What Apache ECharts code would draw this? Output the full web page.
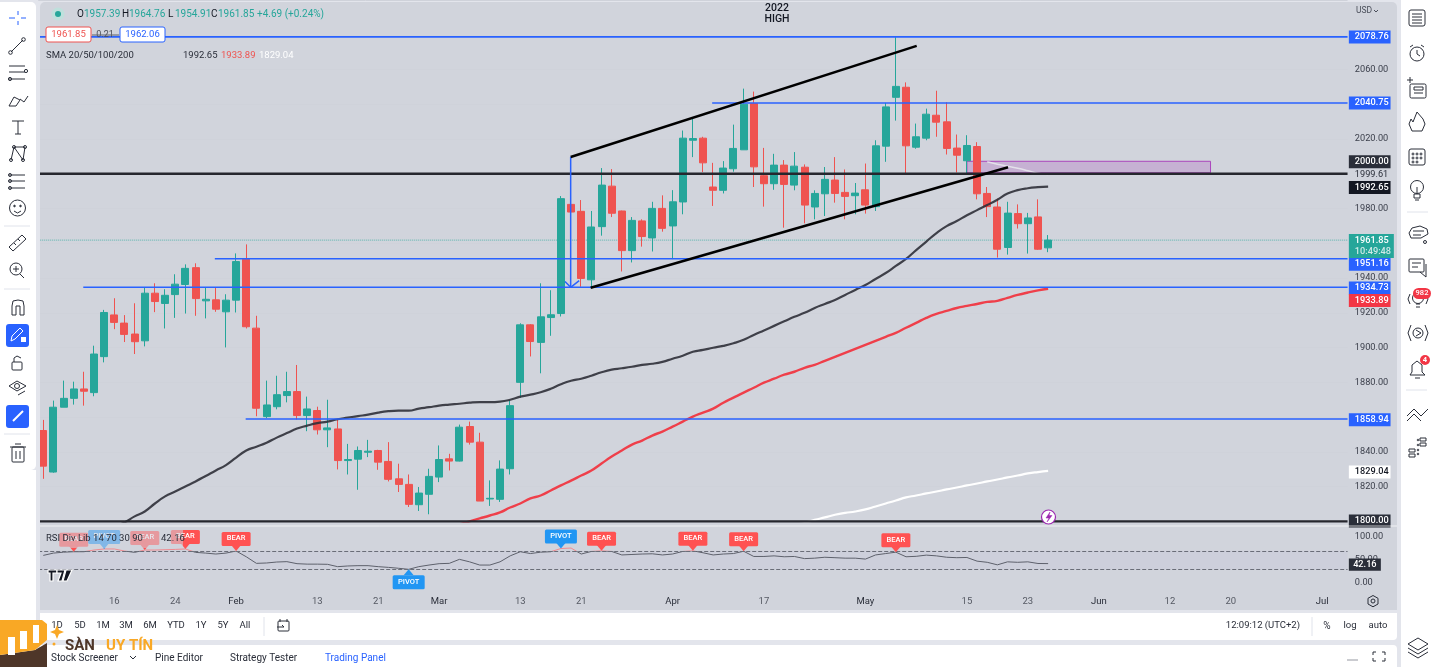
<!DOCTYPE html>
<html><head><meta charset="utf-8">
<style>html,body{margin:0;padding:0;background:#fff;overflow:hidden}#c{width:1432px;height:667px}</style>
<script src="https://cdn.jsdelivr.net/npm/echarts@6/dist/echarts.min.js"></script>
</head><body><div id="c"></div>
<script>
// [open, close, low, high]
const ohlc = [
[1852.3,1831.8,1824.5,1858.4],[1828.4,1865.7,1828,1869.5],[1865.7,1870.8,1865.7,1881],[1870.8,1876.2,1867.2,1880.4],[1876.2,1874.9,1866.6,1886.1],
[1874.1,1896.3,1872,1901.1],[1894.8,1920.2,1891.5,1921.7],[1918.8,1914.5,1910.6,1928.4],[1914.1,1907.6,1903.2,1918.7],[1907.8,1903.4,1896.3,1925.5],
[1903.9,1931.3,1900.7,1934.5],[1931.3,1926.5,1920.4,1937],[1925.4,1930.1,1911,1933.6],[1930.5,1936.5,1917.1,1942.2],[1936.3,1945.6,1919.6,1947.9],
[1946,1928.2,1918.3,1948.5],[1926.9,1927.8,1916.8,1934.5],[1927.5,1922.1,1920.6,1934.5],[1920.6,1927.3,1900.1,1930.7],[1927.3,1949.5,1920.2,1954.2],
[1950.8,1912,1911,1959.4],[1911.2,1865.1,1860.5,1918.3],[1860.3,1867,1859.4,1881],[1866,1872.9,1864.5,1883.8],[1872.4,1874.7,1868.5,1886.1],
[1874.7,1860.9,1858.6,1890],[1860.9,1864.7,1851.9,1871.8],[1863.8,1852.7,1850,1866],[1852.7,1853.8,1842.7,1870],[1853.2,1835,1829.9,1859],
[1835,1835.6,1827,1844.6],[1835.8,1840.8,1818.2,1843.1],[1839.8,1840.4,1837,1846.9],[1840.8,1834.1,1829.7,1841.2],[1834.5,1824.2,1823,1845.6],
[1824.5,1821.3,1816.9,1833.2],[1821.3,1809.8,1808.3,1827],[1809.6,1816.3,1806,1819.8],[1815.6,1825.9,1804.1,1830.3],[1825.5,1835.6,1822.6,1843.7],
[1836,1834.7,1829.3,1838.9],[1834.7,1854.2,1834.5,1855.7],[1854.6,1845.6,1844.2,1857.4],[1845.6,1811.7,1811.7,1851],[1812.9,1813.3,1808.9,1823.6],
[1812.7,1830.1,1811.2,1835.1],[1830.3,1866.6,1827,1869.5],[1880,1913.1,1871,1914],[1913.1,1903.5,1894.9,1913.5],[1903,1917.7,1885.2,1937],
[1917.3,1918.9,1906.8,1933],[1919.6,1985.7,1917.9,1987.2],[1982.4,1978,1977,1983],[1978.4,1939.8,1935,1984.9],[1939,1969.4,1934.6,1978.6],
[1969.6,1993.5,1964.4,2003.3],[1992.9,1977.3,1975.1,2002.7],[1978.6,1955.8,1943.8,1978.8],[1955.8,1973.2,1949,1975.1],[1972.9,1963.9,1958.1,1973.8],
[1963.1,1980.1,1955.3,1983.9],[1980.1,1968.6,1966.7,1987.6],[1970,1983.9,1950.9,1990.6],[1983.8,2020.5,1976.7,2024.9],[2019.3,2020.3,2009.6,2031.8],
[2020.5,2006.3,2001,2021.3],[1992.4,1990.5,1981.5,2006.3],[1990.5,2003.3,1988.7,2007.3],[2002.9,2014.6,2001.2,2028.3],[2013.8,2040,2013.8,2049],
[2040.4,2004,1992.4,2047.3],[1998.9,1994.3,1981.1,2014.9],[1994.3,2005,1990.8,2011.5],[2005,1993.9,1969,2007.9],[1993.5,2004.4,1990.5,2012.5],
[2003.8,1982,1971.5,2005.4],[1980.9,1988.7,1973.8,1990.5],[1988.5,1996.8,1975.7,2003.9],[1996.4,1988.7,1983.4,2009.6],[1989.3,1987,1973.8,2002.5],
[1987.4,1988.9,1976.7,1994.7],[1990.8,1982,1977.1,2005.9],[1981.1,2016.1,1978.6,2019.3],[2015.9,2038.5,2006.9,2040.8],[2044,2050.3,2030.6,2078.6],
[2049.8,2016.1,1999.6,2052.6],[2015.3,2021.3,2014.4,2028.9],[2020.5,2034.3,2019.3,2037.5],[2033.7,2029.7,2021.3,2047.8],[2029.9,2014.6,2011.1,2041.2],
[2014.8,2010.7,2000.8,2022.6],[2007.5,2016.3,1999.6,2022.2],[2015.7,1988.5,1985.3,2018.2],[1988.7,1981.1,1975.1,1992.4],[1980.9,1956.6,1951.8,1985.7],
[1957.6,1977.4,1953.5,1983.9],[1977.1,1971.3,1968.5,1982.4],[1971.3,1974.6,1954.1,1977.5],[1975.2,1956.6,1956.2,1985.3],[1957.39,1961.85,1954.91,1964.76]
];
const sma50Start = 7;
const sma50 = [1797,1799.4,1802.9,1805.7,1810.3,1814.4,1817.2,1820.1,1823,1826.1,1829.3,1832.4,1836.7,1840.8,1843,1845.3,1848.2,1850.8,1853.4,1855.1,1856.5,1857.4,1858.8,1859.7,1860.6,1861.4,1862.6,1863.4,1863.7,1863.7,1864.9,1865.7,1866.6,1867.2,1867.7,1868.3,1868.6,1868.6,1868.9,1870,1871.8,1872.9,1874.3,1876.3,1878.9,1880.9,1882.1,1883.8,1885.8,1887.3,1888.1,1889,1890.1,1890.7,1891.8,1893.6,1895.3,1897.6,1898.7,1899.9,1901,1902.5,1904.5,1907.3,1909.9,1912.5,1915.1,1917.7,1920,1922.8,1925.1,1927.4,1930.3,1933.2,1936,1939.5,1942.9,1947,1951,1956.1,1961,1965.9,1969.9,1972.8,1976.2,1979.1,1982,1985.1,1988.6,1990.6,1991.7,1992.3,1992.65];
const sma100Start = 41;
const sma100 = [1798.3,1800,1801.7,1803.4,1805.2,1808,1810.3,1813.2,1814.9,1817.8,1820.7,1823.5,1826.4,1829.3,1833.3,1837.3,1840.8,1844.2,1846.5,1849.4,1851.7,1854.5,1857.4,1860.3,1862.6,1864.9,1868.3,1871.2,1874.1,1876.9,1879.8,1882.1,1884.4,1886.1,1888.4,1890.1,1892.4,1894.7,1897,1899.3,1901.6,1903.9,1906.2,1908.5,1911.4,1914.2,1917.1,1919.4,1921.1,1922.8,1924,1925.1,1926.3,1926.9,1928.6,1930.3,1931.7,1932.9,1933.89];
const sma200Start = 74;
const sma200 = [1798.3,1799.1,1800.9,1802.3,1803.8,1804.9,1805.7,1806.9,1808.6,1810.3,1812,1813.8,1814.9,1816.1,1817.2,1818.4,1819.5,1820.7,1821.8,1823,1824.1,1825.3,1826.4,1827.6,1828.4,1829.04];
const sma20Start = 93;
const sma20 = [2006.9,2005.5,2004.4,2003.2,2001.8,2000.3,1999.61];
const rsi = [60,65,67,68,68,71.7,74,74,69.5,66.6,71.7,71.7,72.4,73,74,66.6,65,63,65,69.5,57,42.7,43.5,45.6,46.4,42,41,41,40.6,35.5,37,37.7,37.7,35.5,34,32,29.7,35.5,39,42,42.7,51.4,46,39,39,46,59,68,64,67,68,75,76,63,68.6,70,68.6,61,62,63,63.5,61,63,68.6,70,65.7,61,63,64,69,57.7,57.7,59,57,57.7,53,54,56,55,54,54,52,61,64,67,57,58,60.6,59,56,55,55.5,47.5,45,39.5,46,45,46,42.4,42.16];
const dateIndex = [7,13,19,27,33,39,47,53,62,71,81,91,97,104,111,117,126];
const dateLabels = ['16','24','Feb','13','21','Mar','13','21','Apr','17','May','15','23','Jun','12','20','Jul'];
const priceTicks = [2060,2020,1980,1940,1920,1900,1880,1840,1820];
const rsiTicks = [0,50,100];
const levelPrices = [2078.76,2040.75,1951.16,1934.73,1858.94];
const levelFrom = [-0.5,65.9,16.9,3.94,19.94];
const blackLevels = [2000,1800];
const lastPrice = 1961.85;
const channelUpper = [[51.96,2009.7],[86.05,2073.6]];
const channelLower = [[53.93,1934.5],[95.05,2003.8]];
const arrowShaft = [[51.96,2009.7],[51.96,1935]];
const arrowHead = [[51.4,1938],[51.96,1934.7],[52.8,1938.5]];
const zoneBox = [[91,2007.2],[115,2000.6]];
const axisTags = [2078.76,2040.75,2000,1992.65,1951.16,1934.73,1933.89,1858.94,1829.04,1800];
const plainTag = 1999.61;
const flagIdx = [3,6,10,14,19,36,51,55,64,69,84];
const flagText = ['BEAR','PIVOT','BEAR','BEAR','BEAR','PIVOT','PIVOT','BEAR','BEAR','BEAR','BEAR'];
const legendOHLC = ['1957.39','1964.76','1954.91','1961.85','+4.69 (+0.24%)'];
const smaLegend = ['1992.65','1933.89','1829.04'];
const ranges = ['1D','5D','1M','3M','6M','YTD','1Y','5Y','All'];
const tabs = ['Stock Screener','Pine Editor','Strategy Tester','Trading Panel'];

/* ---------- styling ---------- */
const UP='#26a69a',DOWN='#ef5350',BLUE='#2962ff',PANE='#d1d4dc',INK='#131722',FONT='Roboto, sans-serif';
const totalBars=129, bandW=10.15, gridL=38.2, gridW=totalBars*bandW;
const pad=(start,a)=>Array(start).fill(null).concat(a);
const categories=Array.from({length:totalBars},(_,i)=>{const k=dateIndex.indexOf(i);return k<0?'':dateLabels[k];});
const tagStyle={2078.76:[BLUE,0],2040.75:[BLUE,0],2000:['#2a2e39',-12],1992.65:[INK,1],1951.16:[BLUE,5.5],1934.73:[BLUE,.7],1933.89:['#f23645',11.7],1858.94:[BLUE,.8],1829.04:['#fff',1,INK],1800:['#2a2e39',-.5]};
const g=[];
const R=(x,y,w,h,fill,z=100,r=0,extra={})=>g.push({type:'rect',silent:true,z,shape:{x,y,width:w,height:h,r},style:Object.assign({fill},extra)});
const T=(x,y,text,o={})=>g.push({type:'text',silent:true,z:o.z||110,style:{x,y,text,fill:o.color||INK,font:`${o.weight||'normal'} ${o.size||10}px ${FONT}`,align:o.align||'left',verticalAlign:'middle',opacity:o.opacity==null?1:o.opacity}});
const L=(x1,y1,x2,y2,c='#2a2e39',w=1,z=110)=>g.push({type:'line',silent:true,z,shape:{x1,y1,x2,y2},style:{stroke:c,lineWidth:w}});
const C=(cx,cy,r,c='#2a2e39',fill='none',w=1,z=110)=>g.push({type:'circle',silent:true,z,shape:{cx,cy,r},style:{stroke:c,fill,lineWidth:w}});
const P=(pts,c='#2a2e39',w=1,fill=null,z=110)=>g.push(fill?{type:'polygon',silent:true,z,shape:{points:pts},style:{fill,stroke:c,lineWidth:w}}:{type:'polyline',silent:true,z,shape:{points:pts},style:{stroke:c,lineWidth:w,fill:'none'}});

// page frame
R(0,0,1432,667,'#e3e5ec',-10);
R(40,2,1357,608,PANE,-9,[5,5,0,0]);
R(40,613,1357,27,'#fff',100,[0,0,4,4]);
R(0,645,1397,22,'#fff',100,[4,4,0,0]);
R(0,2,36,468,'#fff',100,[0,5,5,0]);
R(36,2,4,660,'#e3e5ec',100);
R(0,470,36,175,'#fff',100);
R(1397,0,4,667,'#e3e5ec',100);
R(1401,0,31,667,'#fff',100);
L(40,526,1397,526,'rgba(255,255,255,.7)',1,50);

// header legend
C(58,14,6.5,'none','#bfe0dc',0,105);C(58,14,3,'none',UP,0,106);
[77,122,168,211].forEach((hx,i)=>{T(hx,14,'OHLC'[i],{size:10,color:INK});T(hx+7,14,legendOHLC[i],{size:10,color:UP});});
T(257,14,legendOHLC[4],{size:10,color:UP});
T(777,8,'2022',{size:10.5,align:'center',weight:'500'});T(777,19,'HIGH',{size:10.5,align:'center',weight:'500'});
T(1356,11,'USD',{size:8.5,color:'#4a4e5a'});P([[1374,10],[1376,12],[1378,10]],'#4a4e5a',1);
R(46,27,45,15,'#fff',105,2,{stroke:'#ef5350',lineWidth:1});T(68.5,35,'1961.85',{size:9.5,align:'center',color:'#ef5350'});
T(105,35,'0.21',{size:9,align:'center',color:'#4a4e5a'});L(92,35,119,35,'#5d606b',1);
R(120,27,45,15,'#fff',105,2,{stroke:BLUE,lineWidth:1});T(142.5,35,'1962.06',{size:9.5,align:'center',color:BLUE});
T(46,56,'SMA 20/50/100/200',{size:9.5,color:'#2a2e39'});
T(183,56,smaLegend[0],{size:9.5,color:'#2a2e39'});T(221,56,smaLegend[1],{size:9.5,color:'#ef5350'});T(259,56,smaLegend[2],{size:9.5,color:'#fff'});
// RSI legend
R(44,530,139,18,'rgba(209,212,220,.55)',105);
T(46,539,'RSI Div Lib 14 70 30 90',{size:9.5,color:'#2a2e39'});T(161,539,'42.16',{size:9.5,color:'#2a2e39'});
// logo mark
P([[48,570],[57,570],[57,573],[53,573],[53,581],[50,581],[50,573],[48,573]],'#fff',1.2,'#131722');
P([[57,570],[65,570],[62,581],[58,581],[61,573],[57,573]],'#fff',1.2,'#131722');
P([[66,570],[72,570],[67,581],[63,581]],'#fff',1.2,'#131722');
// divergence marker
C(1048.5,517,7,'#9c27b0','#fff',1.2,60);P([[1050,512],[1046,518],[1049,518],[1047,522],[1052,515.5],[1049,515.5]],'#9c27b0',.5,'#9c27b0',61);
// settings cog
P([[1373,595.5],[1378,598.3],[1378,604],[1373,606.8],[1368,604],[1368,598.3],[1373,595.5]],'#2a2e39',1);C(1373,601,2,'#2a2e39');
// bottom toolbar
[57,80,103,126,150,176,201,223,245].forEach((x,i)=>T(x,626,ranges[i],{size:9.5,align:'center',color:'#2a2e39'}));
L(264,617,264,636,'#e0e3eb');R(278,621,11,10,'none',110,1,{stroke:'#2a2e39',lineWidth:1});L(280,619,280,622);L(287,619,287,622);P([[277,627],[284,627],[282,625]],'#2a2e39',1);
T(1300,626,'12:09:12 (UTC+2)',{size:9.5,align:'right',color:'#2a2e39'});L(1312,617,1312,636,'#e0e3eb');
T(1327,626,'%',{size:10,align:'center',color:'#2a2e39'});T(1350,626,'log',{size:9.5,align:'center',color:'#2a2e39'});T(1378,626,'auto',{size:9.5,align:'center',color:'#2a2e39'});
// bottom tabs
T(51,658,tabs[0],{size:10,color:'#2a2e39'});P([[130,656],[133,659],[136,656]],'#2a2e39',1);
T(155,658,tabs[1],{size:10,color:'#2a2e39'});T(230,658,tabs[2],{size:10,color:'#2a2e39'});T(325,658,tabs[3],{size:10,color:BLUE});
L(1347,660,1358,660,'#9598a1',1);
[[1373,652,1,1],[1385,652,-1,1],[1373,661,1,-1],[1385,661,-1,-1]].forEach(([x,y,a,b])=>P([[x+3*a,y],[x,y],[x,y+3*b]],'#2a2e39',1));
// watermark logo
P([[0,620],[42,620],[47,624],[47,640],[35,650],[0,655]],'#f9a825',0,'#f9a825',120);
P([[0,655],[35,650],[47,643],[47,667],[0,667]],'#4e3629',0,'#4e3629',119);
R(8,637,7,18,'#fff',121);R(20,631,7,18,'#fff',121);R(33,625,6,18,'#fff',121);
P([[57,625],[59,630],[64,632],[59,634],[57,639],[55,634],[50,632],[55,630]],'#f9a825',0,'#f9a825',121);C(54,644,1.5,'#f9a825','#f9a825',0,121);
T(65,646,'SÀN',{size:15,weight:'bold',color:'#4e3629',z:125});T(106,646,'UY TÍN',{size:15,weight:'bold',color:'#f9a825',z:125});
// left toolbar
const ic='#2a2e39';
L(18,11,18,15,BLUE);L(18,21,18,25,BLUE);L(9,18,15,18,BLUE);L(21,18,26,18,BLUE);
L(11,52,23,40);C(10.5,52.5,1.8);C(23.5,39.5,1.8);
L(9,66,25,66);L(9,72,25,72);L(9,79,25,79);C(26,71,1.6);C(10,79,1.6);
P([[9,106],[16,106],[20,100],[14,97],[9,106]]);P([[20,99],[24,102],[28,96]]);
L(12,121,24,121);L(18,121,18,134);L(15,134,21,134);
P([[11,160],[14,147],[23,160],[25,147],[14,147]]);C(11,160,1.5);C(14,147,1.5);C(23,160,1.5);C(25,147,1.5);
L(9,175,25,175);L(9,181,25,181);L(9,188,25,188);C(10,175,1.5);C(10,188,1.5);C(10,181,1.5);
C(17.5,208,8);C(14.5,206,.8,ic,ic);C(20.5,206,.8,ic,ic);P([[14,211],[17.5,213],[21,211]]);
L(4,226,30,226,'#e0e3eb');
P([[9,247],[22,235],[26,239],[13,251],[9,247]]);L(14,243,16,245);L(18,239,20,241);
C(16,269,6);L(13,269,19,269);L(16,266,16,272);L(20,274,24,278);
L(4,289,30,289,'#e0e3eb');
P([[12,315],[12,306],[13,301],[18,300],[23,301],[24,306],[24,315],[20,315],[20,306],[16,306],[16,315],[12,315]]);
R(6,324,23,23,BLUE,105,3);P([[11,341],[12,336],[20,328],[23,331],[15,339],[11,341]],'#fff',1);R(21,337,5,5,'#fff',111);
R(12,362,10,8,'none',110,1,{stroke:ic,lineWidth:1});P([[14,362],[14,358],[17,356],[21,358]]);
P([[9,386],[17,381],[26,386],[17,391],[9,386]]);C(17,386,2.5);L(18,395,25,391);
R(6,405,23,23,BLUE,105,3);L(13,421,23,411,'#fff',2);
L(4,434,30,434,'#e0e3eb');
R(12,447,12,15,'none',110,1,{stroke:ic,lineWidth:1});L(10,447,26,447);L(15,444,21,444);L(16,451,16,459);L(20,451,20,459);
// right toolbar
R(1409,10,16,16,'none',110,2,{stroke:ic,lineWidth:1});[14,17,20,23].forEach(y=>L(1412,y,1422,y));
C(1417,54,7);P([[1417,50],[1417,54],[1420,56]]);L(1410,47,1413,45);L(1421,45,1424,47);
R(1410,84,16,14,'none',110,1.5,{stroke:ic,lineWidth:1});L(1407,80,1413,80);L(1410,77,1410,83);R(1414,87,9,3,'none',110,0,{stroke:ic,lineWidth:1});L(1414,93,1423,93);
P([[1417,112],[1423,119],[1425,124],[1422,131],[1412,131],[1409,124],[1411,119],[1413,122],[1417,112]]);
R(1409,149,16,16,'none',110,2,{stroke:ic,lineWidth:1});[[1413,154],[1417,154],[1421,154],[1413,158],[1417,158],[1421,158],[1413,162],[1417,162]].forEach(([x,y])=>C(x,y,1));
C(1417,187,6.5);R(1414,194,6,4,'none',110,0,{stroke:ic,lineWidth:1});L(1415,200,1419,200);L(1417,187,1417,193);
L(1407,212,1428,212,'#e0e3eb');
P([[1409,233],[1412,228],[1420,226],[1427,229],[1428,234],[1421,238],[1411,238],[1409,233]]);L(1413,231,1424,231);L(1413,235,1421,235);C(1425,242,1.5);
R(1409,259,15,13,'none',110,1,{stroke:ic,lineWidth:1});L(1412,263,1421,263);L(1412,267,1418,267);P([[1420,272],[1426,277],[1426,264]]);
C(1418,298,5.5);L(1416,304,1420,304);L(1416,307,1420,307);P([[1410,294],[1408,299],[1410,304]]);P([[1426,294],[1428,299],[1426,304]]);
R(1413,288,18,11,'#f23645',112,5.5);T(1422,293.5,'982',{size:7.5,color:'#fff',align:'center',z:113,weight:'500'});
C(1418,333,5);P([[1416,330],[1421,333],[1416,336]]);P([[1411,325],[1408,333],[1411,341]]);P([[1425,325],[1428,333],[1425,341]]);
P([[1410,375],[1412,372],[1412,365],[1417,361],[1422,365],[1422,372],[1425,375],[1410,375]]);L(1415,378,1420,378);
C(1425,360,5,'#f23645','#f23645',0,112);T(1425,360.5,'4',{size:7.5,color:'#fff',align:'center',z:113,weight:'bold'});
L(1406,390,1427,390,'#e0e3eb');
P([[1407,416],[1414,409],[1421,416],[1428,409]]);P([[1407,421],[1414,414],[1421,421]]);
R(1420,438,6,3,'none',110,0,{stroke:ic,lineWidth:1});R(1420,443,6,3,'none',110,0,{stroke:ic,lineWidth:1});R(1409,449,6,3,'none',110,0,{stroke:ic,lineWidth:1});R(1409,454,6,3,'none',110,0,{stroke:ic,lineWidth:1});
[[1418,440],[1418,445],[1418,450],[1418,454]].forEach(([x,y])=>C(x,y,.8));
P([[1408,644],[1418,638],[1428,644],[1418,650],[1408,644]]);P([[1408,648],[1418,654],[1428,648]]);P([[1408,652],[1418,658],[1428,652]]);

/* ---------- series ---------- */
const lineOn=(name,data,color,width,extra={})=>Object.assign({name,type:'line',data,xAxisIndex:1,yAxisIndex:0,symbol:'none',silent:true,animation:false,z:6,clip:false,lineStyle:{color,width}},extra);
const smaLine=(name,start,a,color,width,op=1)=>({name,type:'line',xAxisIndex:0,yAxisIndex:0,data:pad(start,a),symbol:'none',smooth:true,silent:true,animation:false,z:5,lineStyle:{color,width,opacity:op}});
const series=[
 {name:'XAUUSD',type:'candlestick',xAxisIndex:0,yAxisIndex:0,data:ohlc,barWidth:7.5,silent:true,animation:false,z:3,itemStyle:{color:UP,color0:DOWN,borderColor:UP,borderColor0:DOWN,borderWidth:1}},
 smaLine('SMA 50',sma50Start,sma50,'#2f3038',2.2,.9),
 smaLine('SMA 100',sma100Start,sma100,'#ef3f4a',2.4),
 smaLine('SMA 200',sma200Start,sma200,'#ffffff',2.2),
 smaLine('SMA 20',sma20Start,sma20,'rgba(235,236,240,.8)',1.5),
 lineOn('zone',[],'none',0,{z:2,markArea:{silent:true,animation:false,itemStyle:{color:'rgba(156,39,176,.2)',borderColor:'#ab47bc',borderWidth:1},data:[[{coord:zoneBox[0]},{coord:zoneBox[1]}]]}}),
 lineOn('last',[[-0.5,lastPrice],[128.5,lastPrice]],'rgba(38,166,154,.7)',1,{z:2,lineStyle:{color:'rgba(38,166,154,.7)',width:1,type:'dotted'}}),
 ...levelPrices.map((p,i)=>lineOn('level'+p,[[levelFrom[i],p],[128.5,p]],BLUE,1.6)),
 ...blackLevels.map(p=>lineOn('black'+p,[[-0.5,p],[128.5,p]],'#26272e',2.4)),
 lineOn('upper',channelUpper,'#000',2.6,{z:7}),
 lineOn('lower',channelLower,'#000',2.6,{z:7}),
 lineOn('arrow',arrowShaft,BLUE,1.5),
 lineOn('arrowHead',arrowHead,BLUE,1.5),
 {name:'tags',type:'custom',xAxisIndex:0,yAxisIndex:0,silent:true,animation:false,z:40,clip:false,
  data:axisTags.map((v,i)=>[0,v,i]),encode:{x:0,y:1},
  renderItem(params,api){const v=api.value(1),s=tagStyle[v],y=api.coord([0,v])[1]+s[1],x=gridL+gridW+1.3;
   return {type:'group',children:[{type:'rect',shape:{x,y:y-6.5,width:41.7,height:13},style:{fill:s[0]}},
    {type:'text',style:{x:x+6,y,text:v.toFixed(2),fill:s[2]||'#fff',font:`500 9.2px ${FONT}`,align:'left',verticalAlign:'middle'}}]};}},
 {name:'lastTag',type:'custom',xAxisIndex:0,yAxisIndex:0,silent:true,animation:false,z:41,clip:false,
  data:[[0,lastPrice,'10:49:48']],encode:{x:0,y:1},
  renderItem(params,api){const y=api.coord([0,api.value(1)])[1],x=gridL+gridW+1.3;
   return {type:'group',children:[{type:'rect',shape:{x,y:y-6,width:45,height:24},style:{fill:UP}},
    {type:'text',style:{x:x+6,y:y+.5,text:lastPrice.toFixed(2),fill:'#fff',font:`500 9.2px ${FONT}`,align:'left',verticalAlign:'middle'}},
    {type:'text',style:{x:x+6,y:y+12,text:'10:49:48',fill:'#cfe9e6',font:`500 9.2px ${FONT}`,align:'left',verticalAlign:'middle'}}]};}},
 {name:'plainTag',type:'custom',xAxisIndex:0,yAxisIndex:0,silent:true,animation:false,z:41,clip:false,
  data:[[0,plainTag]],encode:{x:0,y:1},
  renderItem(params,api){const y=api.coord([0,api.value(1)])[1],x=gridL+gridW+7.3;
   return {type:'text',style:{x,y,text:plainTag.toFixed(2),fill:'#2a2e39',font:`9.2px ${FONT}`,align:'left',verticalAlign:'middle'}};}},
 {name:'RSI',type:'line',xAxisIndex:2,yAxisIndex:1,data:rsi,symbol:'none',silent:true,animation:false,z:4,lineStyle:{width:1},
  markLine:{silent:true,animation:false,symbol:'none',label:{show:false},lineStyle:{color:'#6a6d78',type:'dashed',width:1},data:[{yAxis:70},{yAxis:30}]},
  markArea:{silent:true,animation:false,itemStyle:{color:'rgba(126,87,194,.035)'},data:[[{yAxis:70},{yAxis:30}]]}},
 {name:'flags',type:'custom',xAxisIndex:2,yAxisIndex:1,silent:true,animation:false,z:8,clip:false,
  data:flagIdx.map((i,k)=>[i,rsi[i],k]),encode:{x:0,y:1},
  renderItem(params,api){const p=api.coord([api.value(0),api.value(1)]),t=flagText[api.value(2)];
   const below=api.value(2)===5, col=t==='PIVOT'?'#2196f3':'#ff5252', w=t==='PIVOT'?32:29, d=below?1:-1;
   const by=below?p[1]+6:p[1]-19;
   return {type:'group',children:[
    {type:'rect',shape:{x:p[0]-w/2,y:by,width:w,height:14,r:1.5},style:{fill:col}},
    {type:'polygon',shape:{points:[[p[0],p[1]],[p[0]-5,p[1]+6*d],[p[0]+5,p[1]+6*d]]},style:{fill:col}},
    {type:'text',style:{x:p[0],y:by+6.5,text:t,fill:'#fff',font:`500 7.5px ${FONT}`,align:'center',verticalAlign:'middle'}}]};}},
 {name:'rsiTag',type:'custom',xAxisIndex:2,yAxisIndex:1,silent:true,animation:false,z:40,clip:false,
  data:[[0,rsi[rsi.length-1]]],encode:{x:0,y:1},
  renderItem(params,api){const v=api.value(1),y=api.coord([0,v])[1]+1,x=gridL+gridW+1.3;
   return {type:'group',children:[{type:'rect',shape:{x,y:y-6.2,width:32,height:12.4},style:{fill:'#2a2e39'}},
    {type:'text',style:{x:x+16,y,text:v.toFixed(2),fill:'#fff',font:`500 9.2px ${FONT}`,align:'center',verticalAlign:'middle'}}]};}}
];
const rsiSeriesIndex=series.findIndex(s=>s.name==='RSI');
const option={
 animation:false,backgroundColor:'transparent',
 graphic:{elements:g},
 grid:[{left:gridL,top:-1.8,width:gridW,height:523.2,containLabel:false},{left:gridL,top:525.5,width:gridW,height:69,containLabel:false}],
 xAxis:[
  {type:'category',gridIndex:0,data:categories,show:false},
  {type:'value',gridIndex:0,min:-0.5,max:128.5,show:false},
  {type:'category',gridIndex:1,data:categories,boundaryGap:true,axisLine:{show:false},axisTick:{show:false},splitLine:{show:false},
   axisLabel:{interval:0,margin:2,hideOverlap:false,fontFamily:'Roboto',fontSize:9.5,color:v=>/[A-Za-z]/.test(v)?'#2a2e39':'#555963'}}
 ],
 yAxis:[
  {type:'value',gridIndex:0,position:'right',min:1800,max:2100,interval:20,axisLine:{show:false},axisTick:{show:false},
   splitLine:{show:true,lineStyle:{color:'#cfd2da',width:1}},
   axisLabel:{margin:7.3,fontFamily:'Roboto',fontSize:9.2,color:'#3a3e4a',formatter:v=>priceTicks.includes(v)?v.toFixed(2):''}},
  {type:'value',gridIndex:1,position:'right',min:-25,max:125,interval:25,axisLine:{show:false},axisTick:{show:false},splitLine:{show:false},
   axisLabel:{margin:7.3,fontFamily:'Roboto',fontSize:9.2,color:'#3a3e4a',formatter:v=>rsiTicks.includes(v)?v.toFixed(2):''}}
 ],
 visualMap:{show:false,type:'piecewise',seriesIndex:rsiSeriesIndex,dimension:1,pieces:[{min:0,max:70,color:'#5d606b'},{min:70,max:100,color:'#ee8a90'}]},
 series
};
const chart=echarts.init(document.getElementById('c'),null,{renderer:'canvas',width:1432,height:667});
chart.setOption(option);
</script></body></html>
